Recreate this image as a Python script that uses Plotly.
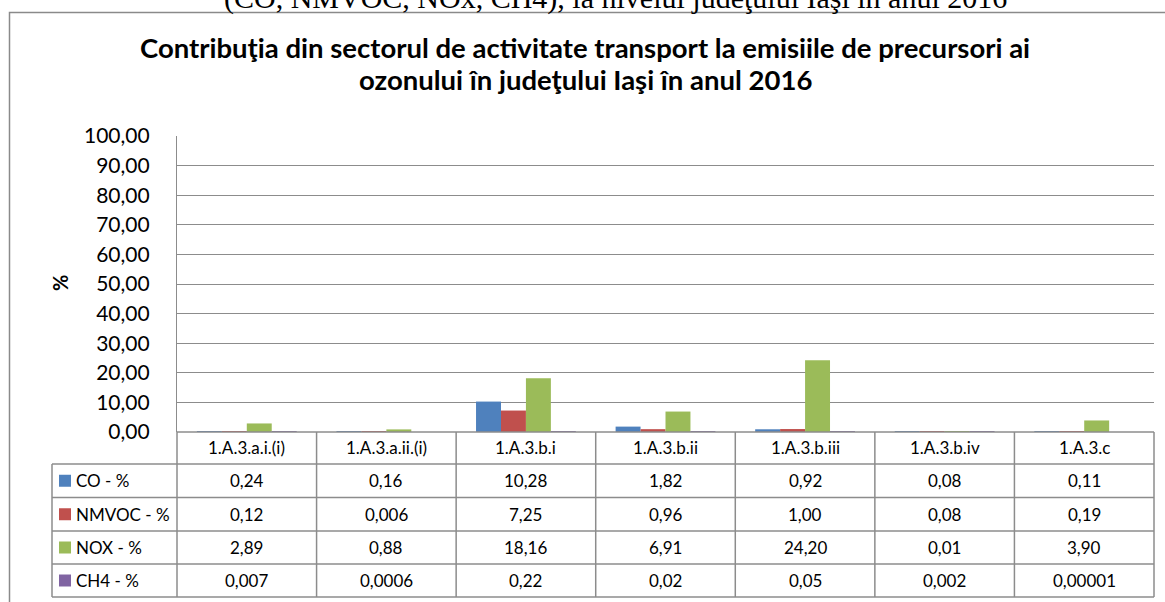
import math
import plotly.graph_objects as go

# ---- data ----
categories = ["1.A.3.a.i.(i)", "1.A.3.a.ii.(i)", "1.A.3.b.i", "1.A.3.b.ii",
              "1.A.3.b.iii", "1.A.3.b.iv", "1.A.3.c"]
series_names = ["CO - %", "NMVOC - %", "NOX - %", "CH4 - %"]
co = [0.24, 0.16, 10.28, 1.82, 0.92, 0.08, 0.11]
nmvoc = [0.12, 0.006, 7.25, 0.96, 1.00, 0.08, 0.19]
nox = [2.89, 0.88, 18.16, 6.91, 24.20, 0.01, 3.90]
ch4 = [0.007, 0.0006, 0.22, 0.02, 0.05, 0.002, 0.00001]
colors = ["#4F81BD", "#C0504D", "#9BBB59", "#8064A2"]
y_ticks = [0, 10, 20, 30, 40, 50, 60, 70, 80, 90, 100]

title_l1 = "Contribuţia din sectorul de activitate transport la emisiile de precursori ai"
title_l2 = "ozonului în judeţului Iaşi în anul 2016"
top_text = "(CO, NMVOC, NOx, CH4), la nivelul judeţului Iaşi în anul 2016"

all_series = [co, nmvoc, nox, ch4]

# ---- geometry (pixels) ----
FW, FH = 1165, 602
L, R, T, B = 177, 1154, 136, 432
W, H = R - L, B - T
FONT = "Lato, Calibri, sans-serif"
GRID = "#8c8c8c"


def px(x):
    return (x - L) / W


def py(y):
    return (B - y) / H


def fmt(v):
    if v >= 0.01 or v == 0:
        s = f"{v:.2f}"
    else:
        d = -int(math.floor(math.log10(v)))
        s = f"{v:.{d}f}"
    return s.replace(".", ",")


fig = go.Figure()
for name, vals, col in zip(series_names, all_series, colors):
    fig.add_trace(go.Bar(x=categories, y=vals, name=name, marker_color=col,
                         marker_line_width=0, showlegend=False, hoverinfo="skip"))

shapes = []
annotations = []

# chart outer border
shapes.append(dict(type="rect", xref="paper", yref="paper",
                   x0=px(9.5), x1=px(1200), y0=py(12.5), y1=py(700),
                   line=dict(color="#8a8a8a", width=1.5), layer="below"))

# titles
annotations.append(dict(text=f"<b>{title_l1}</b>", x=px(585), y=py(47), xref="paper", yref="paper",
                        showarrow=False, font=dict(family=FONT, size=27.5, color="black"),
                        xanchor="center", yanchor="middle"))
annotations.append(dict(text=f"<b>{title_l2}</b>", x=px(585), y=py(79), xref="paper", yref="paper",
                        showarrow=False, font=dict(family=FONT, size=27.5, color="black"),
                        xanchor="center", yanchor="middle"))
annotations.append(dict(text=top_text, x=px(615), y=py(17), xref="paper", yref="paper",
                        showarrow=False, font=dict(family="Liberation Serif, serif", size=30, color="black"),
                        xanchor="center", yanchor="bottom"))
# y-axis title
annotations.append(dict(text="<b>%</b>", x=px(60), y=py(283), xref="paper", yref="paper",
                        showarrow=False, textangle=-90, font=dict(family=FONT, size=20, color="black"),
                        xanchor="center", yanchor="middle"))

# ---- data table ----
ncol = len(categories)
cw = W / ncol
head_top, head_bot = B, 464
row_edges = [464, 497.5, 531, 564, 597]
lab_left = 52
tl = dict(color=GRID, width=1.5)

shapes.append(dict(type="line", xref="paper", yref="paper", x0=px(L), x1=px(R),
                   y0=py(head_top), y1=py(head_top), line=tl))
for ye in row_edges:
    shapes.append(dict(type="line", xref="paper", yref="paper", x0=px(lab_left), x1=px(R),
                       y0=py(ye), y1=py(ye), line=tl))
for k in range(ncol + 1):
    xk = L + k * cw
    shapes.append(dict(type="line", xref="paper", yref="paper", x0=px(xk), x1=px(xk),
                       y0=py(head_top), y1=py(row_edges[-1]), line=tl))
shapes.append(dict(type="line", xref="paper", yref="paper", x0=px(lab_left), x1=px(lab_left),
                   y0=py(row_edges[0]), y1=py(row_edges[-1]), line=tl))

TF = dict(family=FONT, size=17, color="black")
for k, cat in enumerate(categories):
    annotations.append(dict(text=cat, x=px(L + (k + 0.5) * cw), y=py((head_top + head_bot) / 2),
                            xref="paper", yref="paper", showarrow=False, font=TF,
                            xanchor="center", yanchor="middle"))
for r, (name, vals, col) in enumerate(zip(series_names, all_series, colors)):
    yc = (row_edges[r] + row_edges[r + 1]) / 2
    shapes.append(dict(type="rect", xref="paper", yref="paper", x0=px(59), x1=px(71),
                       y0=py(yc - 6), y1=py(yc + 6), fillcolor=col, line=dict(width=0)))
    annotations.append(dict(text=name, x=px(74), y=py(yc), xref="paper", yref="paper",
                            showarrow=False, font=TF, xanchor="left", yanchor="middle"))
    for k, v in enumerate(vals):
        annotations.append(dict(text=fmt(v), x=px(L + (k + 0.5) * cw), y=py(yc),
                                xref="paper", yref="paper", showarrow=False, font=TF,
                                xanchor="center", yanchor="middle"))

fig.update_layout(
    width=FW, height=FH,
    margin=dict(l=L, r=FW - R, t=T, b=FH - B, pad=0),
    paper_bgcolor="white", plot_bgcolor="white",
    barmode="group", bargap=0.285, bargroupgap=0,
    separators=", ",
    font=dict(family=FONT, color="black"),
    shapes=shapes, annotations=annotations,
    xaxis=dict(showticklabels=False, showgrid=False, zeroline=False, showline=False,
               ticks=""),
    yaxis=dict(range=[0, 100], tickvals=y_ticks, tickformat=".2f",
               showgrid=True, gridcolor=GRID, gridwidth=1.3,
               zeroline=False, showline=True, linecolor=GRID, linewidth=1.3,
               ticks="", ticklabelstandoff=22,
               tickfont=dict(family=FONT, size=21, color="black")),
)

fig.write_html("out.html", config={"displayModeBar": False},
               post_script="document.body.style.margin='0';document.body.style.overflow='hidden';")
